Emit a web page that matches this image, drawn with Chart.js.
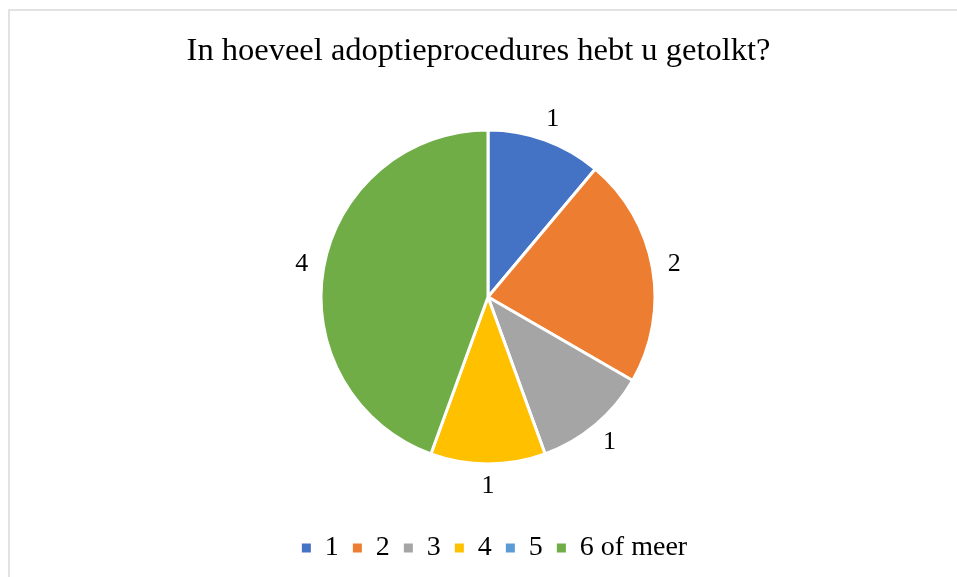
<!DOCTYPE html>
<html lang="nl">
<head>
    <meta charset="UTF-8">
    <title>In hoeveel adoptieprocedures hebt u getolkt?</title>
    <script src="https://cdn.jsdelivr.net/npm/chart.js"></script>
    <style>
        * {
            margin: 0;
            padding: 0;
            box-sizing: border-box;
        }

        body {
            background-color: white;
            width: 957px;
            height: 577px;
            overflow: hidden;
            position: relative;
        }

        .frame {
            position: absolute;
            left: 8px;
            top: 9px;
            width: 1000px;
            height: 1000px;
            border: 2px solid #e2e2e2;
        }

        .chart-container {
            position: absolute;
            left: 0;
            top: 0;
            width: 957px;
            height: 577px;
        }
    </style>
</head>
<body>
    <div class="frame"></div>
    <div class="chart-container">
        <canvas id="pieChart"></canvas>
    </div>

    <script>
        // chart data
        const categories = ['1', '2', '3', '4', '5', '6 of meer'];
        const counts = [1, 2, 1, 1, 0, 4];
        const sliceColors = ['#4472C4', '#ED7D31', '#A5A5A5', '#FFC000', '#5B9BD5', '#70AD47'];
        const chartTitle = 'In hoeveel adoptieprocedures hebt u getolkt?';

        const serif = "'Liberation Serif', 'Times New Roman', serif";

        // nudge the pie and legend sideways, like the original layout
        const shiftPlugin = {
            id: 'shiftLayout',
            afterLayout(chart) {
                const area = chart.chartArea;
                area.left += 19;
                area.width = area.right - area.left;
                if (chart.legend) {
                    chart.legend.left += 16;
                    chart.legend.right += 16;
                }
            }
        };

        // value labels outside each slice
        const outsideLabels = {
            id: 'outsideLabels',
            afterDatasetsDraw(chart) {
                const ctx = chart.ctx;
                const meta = chart.getDatasetMeta(0);
                ctx.save();
                ctx.font = '26px ' + serif;
                ctx.fillStyle = '#000';
                ctx.textAlign = 'center';
                ctx.textBaseline = 'middle';
                meta.data.forEach((arc, i) => {
                    const v = counts[i];
                    if (!v) return;
                    const p = arc.getProps(['x', 'y', 'startAngle', 'endAngle', 'outerRadius'], true);
                    const mid = (p.startAngle + p.endAngle) / 2;
                    const r = p.outerRadius + 22;
                    ctx.fillText(String(v), p.x + Math.cos(mid) * r, p.y + Math.sin(mid) * r);
                });
                ctx.restore();
            }
        };

        new Chart(document.getElementById('pieChart'), {
            type: 'pie',
            data: {
                labels: categories,
                datasets: [{
                    data: counts,
                    backgroundColor: sliceColors,
                    borderColor: '#ffffff',
                    borderWidth: 3,
                    radius: 167
                }]
            },
            options: {
                responsive: true,
                maintainAspectRatio: false,
                animation: false,
                layout: {
                    padding: { bottom: 5 }
                },
                plugins: {
                    title: {
                        display: true,
                        text: chartTitle,
                        color: '#000',
                        font: { family: serif, size: 32.5, weight: 'normal' },
                        padding: { top: 32, bottom: 3 }
                    },
                    legend: {
                        position: 'bottom',
                        labels: {
                            color: '#000',
                            font: { family: serif, size: 28 },
                            boxWidth: 9,
                            boxHeight: 9,
                            padding: 14,
                            generateLabels(chart) {
                                // plain filled squares, no white slice border
                                const items = Chart.controllers.pie.overrides.plugins.legend.labels.generateLabels(chart);
                                items.forEach(it => { it.lineWidth = 0; it.strokeStyle = it.fillStyle; });
                                return items;
                            }
                        }
                    },
                    tooltip: { enabled: false }
                }
            },
            plugins: [shiftPlugin, outsideLabels]
        });
    </script>
</body>
</html>
